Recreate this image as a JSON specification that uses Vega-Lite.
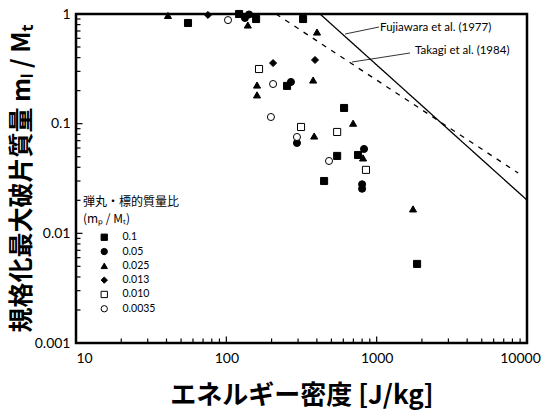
{
  "$schema": "https://vega.github.io/schema/vega-lite/v6.json",
  "width": 451,
  "height": 329,
  "autosize": {"type": "none"},
  "padding": {"left": 76, "top": 14, "right": 17, "bottom": 70},
  "background": "white",
  "config": {
    "view": {"stroke": "black", "strokeWidth": 2.5},
    "font": "Lato",
    "axis": {
      "domain": false,
      "grid": false,
      "ticks": false,
      "labelColor": "black",
      "labelFont": "Lato",
      "labelFontSize": 14,
      "titleColor": "black",
      "titleFont": "Noto Sans CJK JP",
      "titleFontWeight": "bold"
    },
    "legend": {"padding": 0}
  },
  "datasets": {
    "pts": [
      {"E": 55.6, "m": 0.828, "r": "0.1"},
      {"E": 121.6, "m": 1.0, "r": "0.1"},
      {"E": 157.8, "m": 0.90, "r": "0.1"},
      {"E": 324, "m": 0.90, "r": "0.1"},
      {"E": 253.5, "m": 0.221, "r": "0.1"},
      {"E": 607, "m": 0.139, "r": "0.1"},
      {"E": 546, "m": 0.0508, "r": "0.1"},
      {"E": 752, "m": 0.0518, "r": "0.1"},
      {"E": 447, "m": 0.030, "r": "0.1"},
      {"E": 1857, "m": 0.00526, "r": "0.1"},
      {"E": 133, "m": 0.92, "r": "0.05"},
      {"E": 141.6, "m": 0.99, "r": "0.05"},
      {"E": 269, "m": 0.24, "r": "0.05"},
      {"E": 295, "m": 0.0667, "r": "0.05"},
      {"E": 824, "m": 0.0588, "r": "0.05"},
      {"E": 800, "m": 0.028, "r": "0.05"},
      {"E": 800, "m": 0.0255, "r": "0.05"},
      {"E": 40.9, "m": 0.97, "r": "0.025"},
      {"E": 139, "m": 0.794, "r": "0.025"},
      {"E": 401, "m": 0.685, "r": "0.025"},
      {"E": 378, "m": 0.25, "r": "0.025"},
      {"E": 160, "m": 0.225, "r": "0.025"},
      {"E": 160, "m": 0.183, "r": "0.025"},
      {"E": 697, "m": 0.101, "r": "0.025"},
      {"E": 384, "m": 0.0772, "r": "0.025"},
      {"E": 812, "m": 0.0487, "r": "0.025"},
      {"E": 1745, "m": 0.0167, "r": "0.025"},
      {"E": 75.5, "m": 0.98, "r": "0.013"},
      {"E": 389, "m": 0.381, "r": "0.013"},
      {"E": 204.6, "m": 0.357, "r": "0.013"},
      {"E": 165, "m": 0.315, "r": "0.010"},
      {"E": 314, "m": 0.0933, "r": "0.010"},
      {"E": 546, "m": 0.084, "r": "0.010"},
      {"E": 849, "m": 0.0379, "r": "0.010"},
      {"E": 102.6, "m": 0.88, "r": "0.0035"},
      {"E": 204.6, "m": 0.23, "r": "0.0035"},
      {"E": 198, "m": 0.115, "r": "0.0035"},
      {"E": 295, "m": 0.0756, "r": "0.0035"},
      {"E": 482, "m": 0.0457, "r": "0.0035"}
    ],
    "curves": [
      {"s": "Fujiwara", "E": 420, "m": 1.0},
      {"s": "Fujiwara", "E": 10000, "m": 0.0201},
      {"s": "Takagi", "E": 214, "m": 1.0},
      {"s": "Takagi", "E": 8730, "m": 0.0355}
    ],
    "leaders": [
      {"E": 617, "m": 0.657, "E2": 1038, "m2": 0.761},
      {"E": 686, "m": 0.365, "E2": 1667, "m2": 0.441}
    ],
    "notes": [
      {"E": 1054, "m": 0.745, "t": "Fujiawara et al. (1977)"},
      {"E": 1799, "m": 0.460, "t": "Takagi et al. (1984)"}
    ],
    "xticks": [
      {"E": 10, "m": 0.001, "k": "major"}, {"E": 20, "m": 0.001, "k": "minor"}, {"E": 30, "m": 0.001, "k": "minor"},
      {"E": 40, "m": 0.001, "k": "minor"}, {"E": 50, "m": 0.001, "k": "minor"}, {"E": 60, "m": 0.001, "k": "minor"},
      {"E": 70, "m": 0.001, "k": "minor"}, {"E": 80, "m": 0.001, "k": "minor"}, {"E": 90, "m": 0.001, "k": "minor"},
      {"E": 100, "m": 0.001, "k": "major"}, {"E": 200, "m": 0.001, "k": "minor"}, {"E": 300, "m": 0.001, "k": "minor"},
      {"E": 400, "m": 0.001, "k": "minor"}, {"E": 500, "m": 0.001, "k": "minor"}, {"E": 600, "m": 0.001, "k": "minor"},
      {"E": 700, "m": 0.001, "k": "minor"}, {"E": 800, "m": 0.001, "k": "minor"}, {"E": 900, "m": 0.001, "k": "minor"},
      {"E": 1000, "m": 0.001, "k": "major"}, {"E": 2000, "m": 0.001, "k": "minor"}, {"E": 3000, "m": 0.001, "k": "minor"},
      {"E": 4000, "m": 0.001, "k": "minor"}, {"E": 5000, "m": 0.001, "k": "minor"}, {"E": 6000, "m": 0.001, "k": "minor"},
      {"E": 7000, "m": 0.001, "k": "minor"}, {"E": 8000, "m": 0.001, "k": "minor"}, {"E": 9000, "m": 0.001, "k": "minor"},
      {"E": 10000, "m": 0.001, "k": "major"}
    ],
    "yticks": [
      {"E": 10, "m": 0.001, "k": "major"}, {"E": 10, "m": 0.002, "k": "minor"}, {"E": 10, "m": 0.003, "k": "minor"},
      {"E": 10, "m": 0.004, "k": "minor"}, {"E": 10, "m": 0.005, "k": "minor"}, {"E": 10, "m": 0.006, "k": "minor"},
      {"E": 10, "m": 0.007, "k": "minor"}, {"E": 10, "m": 0.008, "k": "minor"}, {"E": 10, "m": 0.009, "k": "minor"},
      {"E": 10, "m": 0.01, "k": "major"}, {"E": 10, "m": 0.02, "k": "minor"}, {"E": 10, "m": 0.03, "k": "minor"},
      {"E": 10, "m": 0.04, "k": "minor"}, {"E": 10, "m": 0.05, "k": "minor"}, {"E": 10, "m": 0.06, "k": "minor"},
      {"E": 10, "m": 0.07, "k": "minor"}, {"E": 10, "m": 0.08, "k": "minor"}, {"E": 10, "m": 0.09, "k": "minor"},
      {"E": 10, "m": 0.1, "k": "major"}, {"E": 10, "m": 0.2, "k": "minor"}, {"E": 10, "m": 0.3, "k": "minor"},
      {"E": 10, "m": 0.4, "k": "minor"}, {"E": 10, "m": 0.5, "k": "minor"}, {"E": 10, "m": 0.6, "k": "minor"},
      {"E": 10, "m": 0.7, "k": "minor"}, {"E": 10, "m": 0.8, "k": "minor"}, {"E": 10, "m": 0.9, "k": "minor"},
      {"E": 10, "m": 1, "k": "major"}
    ]
  },
  "layer": [
    {
      "data": {"name": "pts"},
      "mark": {"type": "point", "filled": true, "strokeWidth": 1, "opacity": 1, "size": 50, "clip": false},
      "encoding": {
        "x": {
          "field": "E", "type": "quantitative",
          "scale": {"type": "log", "domain": [10, 10000], "nice": false},
          "axis": {
            "title": "エネルギー密度 [J/kg]",
            "titleFontSize": 26,
            "titlePadding": 17,
            "values": [10, 100, 1000, 10000],
            "labelPadding": 8,
            "labelOffset": {"condition": [{"test": "datum.value == 10", "value": 8}, {"test": "datum.value == 10000", "value": -7}], "value": 0},
            "labelFlush": false,
            "labelOverlap": false,
            "format": "d"
          }
        },
        "y": {
          "field": "m", "type": "quantitative",
          "scale": {"type": "log", "domain": [0.001, 1], "nice": false},
          "axis": {
            "title": "規格化最大破片質量 mₗ / Mₜ",
            "titleFontSize": 25,
            "titlePadding": 0,
            "values": [0.001, 0.01, 0.1, 1],
            "labelPadding": 6,
            "labelOverlap": false,
            "labelFlush": false,
            "format": "~g"
          }
        },
        "shape": {
          "field": "r", "type": "nominal",
          "scale": {"domain": ["0.1", "0.05", "0.025", "0.013", "0.010", "0.0035"], "range": ["square", "circle", "triangle-up", "diamond", "square", "circle"]},
          "legend": {
            "orient": "none",
            "legendX": 7,
            "legendY": 183,
            "title": ["弾丸・標的質量比", "\u00a0\u00a0\u00a0(mₚ / Mₜ)"],
            "titleFont": "Noto Sans CJK JP",
            "titleFontSize": 12,
            "titleFontWeight": "normal",
            "titleColor": "black",
            "titleLineHeight": 17,
            "titlePadding": 6,
            "labelFont": "Lato",
            "labelFontSize": 10.5,
            "labelColor": "black",
            "labelOffset": 13,
            "symbolOffset": 16,
            "symbolSize": 40,
            "symbolStrokeWidth": 1,
            "rowPadding": 3.3
          }
        },
        "fill": {
          "field": "r", "type": "nominal",
          "scale": {"domain": ["0.1", "0.05", "0.025", "0.013", "0.010", "0.0035"], "range": ["black", "black", "black", "black", "white", "white"]}
        },
        "stroke": {
          "field": "r", "type": "nominal",
          "scale": {"domain": ["0.1", "0.05", "0.025", "0.013", "0.010", "0.0035"], "range": ["black", "black", "black", "black", "black", "black"]}
        }
      }
    },
    {
      "data": {"name": "xticks"},
      "mark": {"type": "tick", "orient": "vertical", "color": "black", "thickness": 1.2, "opacity": 1, "clip": true},
      "encoding": {
        "x": {"field": "E", "type": "quantitative"},
        "y": {"field": "m", "type": "quantitative"},
        "size": {"field": "k", "type": "nominal", "scale": {"domain": ["major", "minor"], "range": [13, 9]}, "legend": null}
      }
    },
    {
      "data": {"name": "yticks"},
      "mark": {"type": "tick", "orient": "horizontal", "color": "black", "thickness": 1.2, "opacity": 1, "clip": true},
      "encoding": {
        "x": {"field": "E", "type": "quantitative"},
        "y": {"field": "m", "type": "quantitative"},
        "size": {"field": "k", "type": "nominal", "scale": {"domain": ["major", "minor"], "range": [13, 9]}, "legend": null}
      }
    },
    {
      "data": {"name": "curves"},
      "mark": {"type": "line", "color": "black", "strokeWidth": 1.3, "clip": true},
      "encoding": {
        "x": {"field": "E", "type": "quantitative"},
        "y": {"field": "m", "type": "quantitative"},
        "detail": {"field": "s"},
        "strokeDash": {
          "field": "s", "type": "nominal",
          "scale": {"domain": ["Fujiwara", "Takagi"], "range": [[1, 0], [5, 6]]},
          "legend": null
        }
      }
    },
    {
      "data": {"name": "leaders"},
      "mark": {"type": "rule", "color": "black", "strokeWidth": 0.8},
      "encoding": {
        "x": {"field": "E", "type": "quantitative"},
        "y": {"field": "m", "type": "quantitative"},
        "x2": {"field": "E2"},
        "y2": {"field": "m2"}
      }
    },
    {
      "data": {"name": "notes"},
      "mark": {"type": "text", "align": "left", "baseline": "middle", "font": "Lato", "fontSize": 11.5, "color": "black"},
      "encoding": {
        "x": {"field": "E", "type": "quantitative"},
        "y": {"field": "m", "type": "quantitative"},
        "text": {"field": "t"}
      }
    }
  ]
}
